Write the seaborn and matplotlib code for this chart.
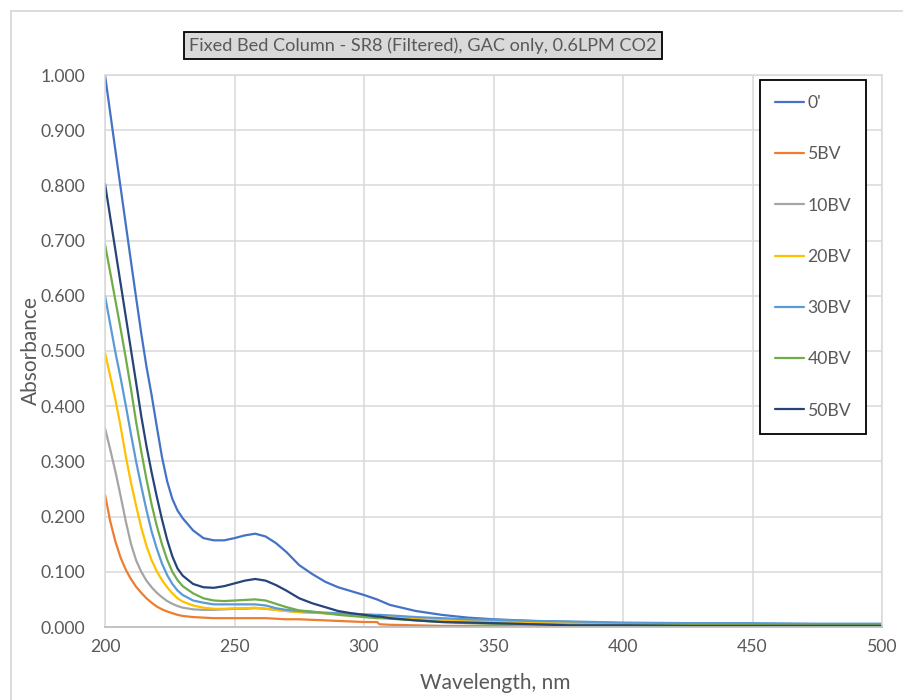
import matplotlib
matplotlib.use("Agg")
import matplotlib.pyplot as plt
import matplotlib.patches as mpatches
from matplotlib.ticker import FormatStrFormatter, MultipleLocator
import seaborn as sns
import pandas as pd

# Wavelength grid (nm)
wavelength = [200, 202, 204, 206, 208, 210, 212, 214, 216, 218, 220, 222, 224, 226, 228, 230,
              234, 238, 242, 246, 250, 254, 258, 262, 266, 270,
              275, 280, 285, 290, 295, 300, 305, 306,
              310, 320, 330, 340, 350,
              365, 380, 400, 425, 450, 475, 500]

# Absorbance per sample
abs_0 = [1.000, 0.932, 0.864, 0.797, 0.730, 0.663, 0.597, 0.532, 0.472, 0.420, 0.363, 0.308, 0.264, 0.232, 0.211, 0.197,
         0.175, 0.161, 0.157, 0.157, 0.161, 0.166, 0.169, 0.164, 0.152, 0.136,
         0.112, 0.096, 0.082, 0.072, 0.065, 0.058, 0.050, 0.048,
         0.040, 0.029, 0.022, 0.017, 0.014,
         0.011, 0.009, 0.007, 0.006, 0.005, 0.005, 0.005]
abs_5bv = [0.240, 0.192, 0.155, 0.126, 0.104, 0.087, 0.073, 0.062, 0.052, 0.044, 0.037, 0.032, 0.028, 0.025, 0.022, 0.020,
           0.018, 0.017, 0.016, 0.016, 0.016, 0.016, 0.016, 0.016, 0.015, 0.014,
           0.014, 0.013, 0.012, 0.011, 0.010, 0.009, 0.009, 0.005,
           0.004, 0.003, 0.002, 0.002, 0.002,
           0.001, 0.001, 0.001, 0.001, 0.001, 0.001, 0.001]
abs_10bv = [0.360, 0.322, 0.282, 0.238, 0.192, 0.151, 0.121, 0.100, 0.084, 0.072, 0.062, 0.054, 0.047, 0.042, 0.038, 0.035,
            0.032, 0.031, 0.031, 0.032, 0.033, 0.033, 0.034, 0.033, 0.031, 0.029,
            0.027, 0.026, 0.025, 0.024, 0.023, 0.022, 0.020, 0.019,
            0.017, 0.013, 0.010, 0.008, 0.006,
            0.005, 0.004, 0.003, 0.003, 0.003, 0.002, 0.002]
abs_20bv = [0.497, 0.455, 0.412, 0.364, 0.310, 0.262, 0.220, 0.180, 0.147, 0.121, 0.101, 0.085, 0.072, 0.061, 0.052, 0.046,
            0.039, 0.035, 0.033, 0.033, 0.034, 0.034, 0.035, 0.033, 0.031, 0.029,
            0.027, 0.026, 0.025, 0.024, 0.023, 0.022, 0.020, 0.020,
            0.018, 0.016, 0.013, 0.011, 0.010,
            0.008, 0.007, 0.006, 0.005, 0.005, 0.005, 0.005]
abs_30bv = [0.600, 0.549, 0.498, 0.452, 0.402, 0.350, 0.300, 0.255, 0.212, 0.173, 0.142, 0.115, 0.094, 0.078, 0.066, 0.058,
            0.048, 0.044, 0.041, 0.041, 0.041, 0.041, 0.041, 0.039, 0.034, 0.031,
            0.029, 0.027, 0.026, 0.025, 0.024, 0.023, 0.022, 0.022,
            0.021, 0.018, 0.016, 0.014, 0.013,
            0.011, 0.010, 0.008, 0.007, 0.007, 0.006, 0.006]
abs_40bv = [0.693, 0.643, 0.592, 0.541, 0.488, 0.432, 0.372, 0.318, 0.268, 0.222, 0.183, 0.150, 0.122, 0.100, 0.085, 0.074,
            0.061, 0.052, 0.048, 0.047, 0.048, 0.049, 0.050, 0.048, 0.042, 0.036,
            0.030, 0.028, 0.025, 0.022, 0.020, 0.018, 0.016, 0.016,
            0.015, 0.012, 0.009, 0.007, 0.006,
            0.005, 0.004, 0.004, 0.003, 0.003, 0.003, 0.003]
abs_50bv = [0.803, 0.743, 0.683, 0.623, 0.563, 0.503, 0.443, 0.382, 0.328, 0.280, 0.236, 0.195, 0.158, 0.128, 0.106, 0.093,
            0.078, 0.072, 0.071, 0.074, 0.079, 0.084, 0.087, 0.084, 0.076, 0.066,
            0.052, 0.043, 0.036, 0.029, 0.025, 0.022, 0.019, 0.019,
            0.016, 0.012, 0.009, 0.008, 0.007,
            0.005, 0.003, 0.003, 0.002, 0.002, 0.002, 0.002]

samples = ["0'", "5BV", "10BV", "20BV", "30BV", "40BV", "50BV"]
series = [abs_0, abs_5bv, abs_10bv, abs_20bv, abs_30bv, abs_40bv, abs_50bv]
colors = ["#4472C4", "#ED7D31", "#A5A5A5", "#FFC000", "#5B9BD5", "#70AD47", "#264478"]

df = pd.concat(
    [pd.DataFrame({"Wavelength": wavelength, "Absorbance": vals, "Sample": name})
     for name, vals in zip(samples, series)],
    ignore_index=True,
)

sns.set_theme(style="white")
plt.rcParams["font.family"] = ["Lato", "DejaVu Sans"]

W, H = 904, 700
fig = plt.figure(figsize=(W / 100, H / 100), dpi=100)
ax = fig.add_axes([105 / W, 1 - 627 / H, (882 - 105) / W, (627 - 75) / H])

sns.lineplot(data=df, x="Wavelength", y="Absorbance", hue="Sample",
             hue_order=samples, palette=colors, linewidth=1.6, ax=ax,
             sort=False, estimator=None)

ax.set_xlim(200, 500)
ax.set_ylim(0, 1.0)
ax.xaxis.set_major_locator(MultipleLocator(50))
ax.yaxis.set_major_locator(MultipleLocator(0.1))
ax.yaxis.set_major_formatter(FormatStrFormatter("%.3f"))
ax.grid(True, color="#D9D9D9", linewidth=1.1)
ax.set_axisbelow(True)
for side in ["left", "right", "top"]:
    ax.spines[side].set_color("#D9D9D9")
    ax.spines[side].set_linewidth(1.1)
ax.spines["bottom"].set_color("#BFBFBF")
ax.spines["bottom"].set_linewidth(1.3)

ax.tick_params(axis="both", length=0, labelsize=12.7, labelcolor="#595959")
ax.tick_params(axis="y", pad=14)
ax.tick_params(axis="x", pad=9)

ax.set_xlabel("Wavelength, nm", fontsize=15, color="#595959")
ax.set_ylabel("Absorbance", fontsize=15, color="#595959")
ax.xaxis.set_label_coords(0.502, -0.083)
ax.yaxis.set_label_coords(-0.083, 0.5)

leg = ax.legend(loc="upper left", bbox_to_anchor=((760 - 105) / 777, 1 - (80 - 75) / 552),
                frameon=True, fancybox=False, fontsize=12.7,
                handlelength=1.65, handletextpad=0.2, labelspacing=2.0,
                borderpad=0.85, borderaxespad=0.0)
leg.get_frame().set_edgecolor("black")
leg.get_frame().set_linewidth(1.3)
leg.get_frame().set_facecolor("white")
leg.get_frame().set_alpha(1.0)
for t in leg.get_texts():
    t.set_color("#595959")
for line in leg.get_lines():
    line.set_linewidth(1.6)

fig.text(423 / W, 1 - 45.5 / H, "Fixed Bed Column - SR8 (Filtered), GAC only, 0.6LPM CO2",
         ha="center", va="center", fontsize=13.1, color="#595959",
         bbox=dict(boxstyle="square,pad=0.3", facecolor="#D9D9D9", edgecolor="black", linewidth=1.3))

# Outer chart frame
fig.patches.append(mpatches.Rectangle((11 / W, -0.05), 1.2, 1 - 11 / H + 0.05,
                                      transform=fig.transFigure, fill=False,
                                      edgecolor="#D9D9D9", linewidth=1.3))

fig.savefig("out.png", dpi=100)
